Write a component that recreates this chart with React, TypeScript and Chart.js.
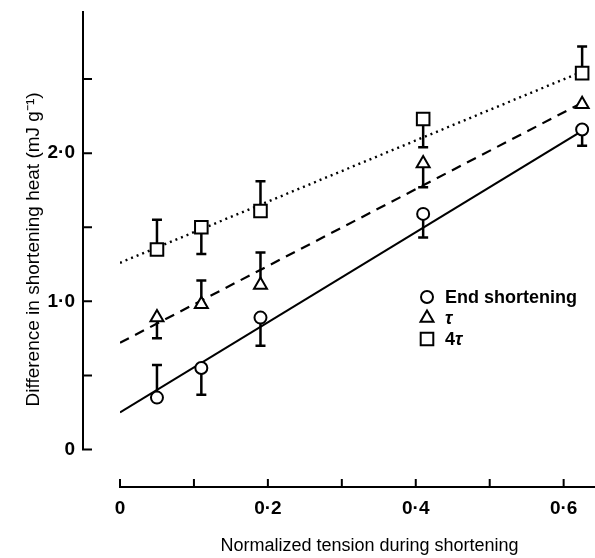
import React, { useEffect, useRef } from "react";
import { Chart, registerables } from "chart.js";

Chart.register(...registerables);

// ---- data ----
const X_VALUES = [0.05, 0.11, 0.19, 0.41, 0.625];
const END_SHORTENING = [0.35, 0.55, 0.89, 1.59, 2.16];
const END_SHORTENING_BAR = [0.57, 0.37, 0.7, 1.43, 2.05];
const TAU = [0.89, 0.98, 1.11, 1.93, 2.33];
const TAU_BAR: (number | null)[] = [0.75, 1.14, 1.33, 1.77, null];
const FOUR_TAU = [1.35, 1.5, 1.61, 2.23, 2.54];
const FOUR_TAU_BAR = [1.55, 1.32, 1.81, 2.04, 2.72];

const FIT_X = [0, 0.625];
const FIT_END = [0.25, 2.15];
const FIT_TAU = [0.72, 2.34];
const FIT_FOUR_TAU = [1.26, 2.55];

const X_TICKS = [0, 0.1, 0.2, 0.3, 0.4, 0.5, 0.6];
const X_TICK_LABELS = ["0", "", "0·2", "", "0·4", "", "0·6"];
const Y_TICKS = [0, 0.5, 1, 1.5, 2, 2.5];
const Y_TICK_LABELS = ["0", "", "1·0", "", "2·0", ""];

const X_TITLE = "Normalized tension during shortening";
const Y_TITLE = "Difference in shortening heat (mJ g⁻¹)";
const LEGEND_LABELS = ["End shortening", "τ", "4τ"];

const FONT = "'Liberation Sans', Arial, Helvetica, sans-serif";
const Y_AXIS_X = 83;

function pts(ys: number[], xs: number[] = X_VALUES) {
  return ys.map((y, i) => ({ x: xs[i], y }));
}

function drawMarker(ctx: CanvasRenderingContext2D, style: string, x: number, y: number) {
  ctx.save();
  ctx.lineWidth = 2;
  ctx.strokeStyle = "#000";
  ctx.fillStyle = "#fff";
  ctx.beginPath();
  if (style === "circle") {
    ctx.arc(x, y, 6, 0, Math.PI * 2);
  } else if (style === "triangle") {
    const r = 7.5;
    ctx.moveTo(x, y - r);
    ctx.lineTo(x + r * 0.866, y + r * 0.5);
    ctx.lineTo(x - r * 0.866, y + r * 0.5);
    ctx.closePath();
  } else {
    const s = 6.3;
    ctx.rect(x - s, y - s, 2 * s, 2 * s);
  }
  ctx.fill();
  ctx.stroke();
  ctx.restore();
}

const axesPlugin = {
  id: "journalAxes",
  afterDraw(chart: any) {
    const { ctx, chartArea, scales } = chart;
    const xs = scales.x;
    const ys = scales.y;
    ctx.save();
    ctx.strokeStyle = "#000";
    ctx.lineWidth = 2;
    ctx.lineCap = "butt";
    // x axis
    const yAxisPix = chartArea.bottom - 1;
    ctx.beginPath();
    ctx.moveTo(xs.getPixelForValue(0) - 1, yAxisPix);
    ctx.lineTo(chart.width, yAxisPix);
    X_TICKS.forEach((v) => {
      const px = xs.getPixelForValue(v);
      ctx.moveTo(px, yAxisPix);
      ctx.lineTo(px, yAxisPix - 8);
    });
    ctx.stroke();
    // y axis
    ctx.beginPath();
    ctx.moveTo(Y_AXIS_X, ys.getPixelForValue(0) + 1);
    ctx.lineTo(Y_AXIS_X, chartArea.top);
    Y_TICKS.forEach((v) => {
      const py = ys.getPixelForValue(v);
      ctx.moveTo(Y_AXIS_X, py);
      ctx.lineTo(Y_AXIS_X + 9, py);
    });
    ctx.stroke();
    ctx.restore();

    // legend
    const styles = ["circle", "triangle", "rect"];
    const lx = 427;
    const ly = 297;
    LEGEND_LABELS.forEach((label, i) => {
      const y = ly + i * 21;
      drawMarker(ctx, styles[i], lx, y);
      ctx.save();
      ctx.fillStyle = "#000";
      ctx.textBaseline = "middle";
      ctx.textAlign = "left";
      let tx = lx + 18;
      // Greek letters in italic, everything else upright
      for (const ch of Array.from(label)) {
        const greek = /[\u0370-\u03ff]/.test(ch);
        ctx.font = `${greek ? "italic " : ""}bold 18px ${FONT}`;
        ctx.fillText(ch, tx, y + 1);
        tx += ctx.measureText(ch).width;
      }
      ctx.restore();
    });
  },
};

const errorBarPlugin = {
  id: "errorBars",
  beforeDatasetsDraw(chart: any) {
    const { ctx, scales } = chart;
    const sets = [
      { y: END_SHORTENING, e: END_SHORTENING_BAR },
      { y: TAU, e: TAU_BAR },
      { y: FOUR_TAU, e: FOUR_TAU_BAR },
    ];
    ctx.save();
    ctx.strokeStyle = "#000";
    ctx.lineWidth = 2.5;
    sets.forEach((s) => {
      s.y.forEach((v, i) => {
        const end = s.e[i];
        if (end === null || end === undefined) return;
        const px = scales.x.getPixelForValue(X_VALUES[i]);
        const py0 = scales.y.getPixelForValue(v);
        const py1 = scales.y.getPixelForValue(end);
        ctx.beginPath();
        ctx.moveTo(px, py0);
        ctx.lineTo(px, py1);
        ctx.moveTo(px - 5, py1);
        ctx.lineTo(px + 5, py1);
        ctx.stroke();
      });
    });
    ctx.restore();
  },
};

export default function App() {
  const ref = useRef<HTMLCanvasElement | null>(null);
  useEffect(() => {
    if (!ref.current) return;
    const pointBase = {
      showLine: false,
      borderColor: "#000",
      backgroundColor: "#fff",
      pointBorderWidth: 2,
      pointBackgroundColor: "#fff",
      pointBorderColor: "#000",
    };
    const lineBase = {
      showLine: true,
      pointRadius: 0,
      borderColor: "#000",
      backgroundColor: "#000",
      fill: false,
    };
    const chart = new Chart(ref.current, {
      type: "scatter",
      data: {
        datasets: [
          { ...pointBase, label: LEGEND_LABELS[0], data: pts(END_SHORTENING), pointStyle: "circle", pointRadius: 6 },
          { ...pointBase, label: LEGEND_LABELS[1], data: pts(TAU), pointStyle: "triangle", pointRadius: 7.5 },
          { ...pointBase, label: LEGEND_LABELS[2], data: pts(FOUR_TAU), pointStyle: "rect", pointRadius: 8.9 },
          { ...lineBase, label: "fit end", data: pts(FIT_END, FIT_X), borderWidth: 2.2 },
          { ...lineBase, label: "fit tau", data: pts(FIT_TAU, FIT_X), borderWidth: 2.2, borderDash: [10, 7] },
          { ...lineBase, label: "fit 4tau", data: pts(FIT_FOUR_TAU, FIT_X), borderWidth: 2.4, borderDash: [2, 4] },
        ],
      } as any,
      options: {
        responsive: false,
        animation: false,
        devicePixelRatio: 1,
        layout: { padding: { top: 5, left: 0, right: 0, bottom: 0 } },
        plugins: { legend: { display: false }, tooltip: { enabled: false } },
        scales: {
          x: {
            type: "linear",
            position: "bottom",
            min: 0,
            max: 0.675,
            grid: { display: false, drawTicks: false },
            border: { display: false },
            afterBuildTicks: (s: any) => {
              s.ticks = X_TICKS.map((v) => ({ value: v }));
            },
            afterFit: (s: any) => {
              s.height = 70;
              s.paddingLeft = 0;
              s.paddingRight = 0;
            },
            ticks: {
              autoSkip: false,
              maxRotation: 0,
              padding: 9,
              color: "#000",
              font: { family: FONT, size: 19, weight: "bold" },
              callback: (_v: any, i: number) => X_TICK_LABELS[i],
            },
            title: {
              display: true,
              text: X_TITLE,
              color: "#000",
              font: { family: FONT, size: 18 },
              padding: { top: 0, bottom: 1 },
            },
          },
          y: {
            type: "linear",
            min: -0.26,
            max: 2.96,
            grid: { display: false, drawTicks: false },
            border: { display: false },
            afterBuildTicks: (s: any) => {
              s.ticks = Y_TICKS.map((v) => ({ value: v }));
            },
            afterFit: (s: any) => {
              s.width = 120;
              s.paddingTop = 0;
              s.paddingBottom = 0;
            },
            ticks: {
              autoSkip: false,
              padding: 45,
              color: "#000",
              font: { family: FONT, size: 19, weight: "bold" },
              callback: (_v: any, i: number) => Y_TICK_LABELS[i],
            },
            title: {
              display: true,
              text: Y_TITLE,
              color: "#000",
              font: { family: FONT, size: 19 },
              padding: { top: 22, bottom: 0 },
            },
          },
        },
      } as any,
      plugins: [errorBarPlugin, axesPlugin],
    });
    return () => chart.destroy();
  }, []);

  return (
    <div
      style={{
        position: "absolute",
        left: 0,
        top: 0,
        width: 595,
        height: 558,
        overflow: "hidden",
        background: "#fff",
      }}
    >
      <canvas ref={ref} width={630} height={558} style={{ display: "block", width: 630, height: 558 }} />
    </div>
  );
}
